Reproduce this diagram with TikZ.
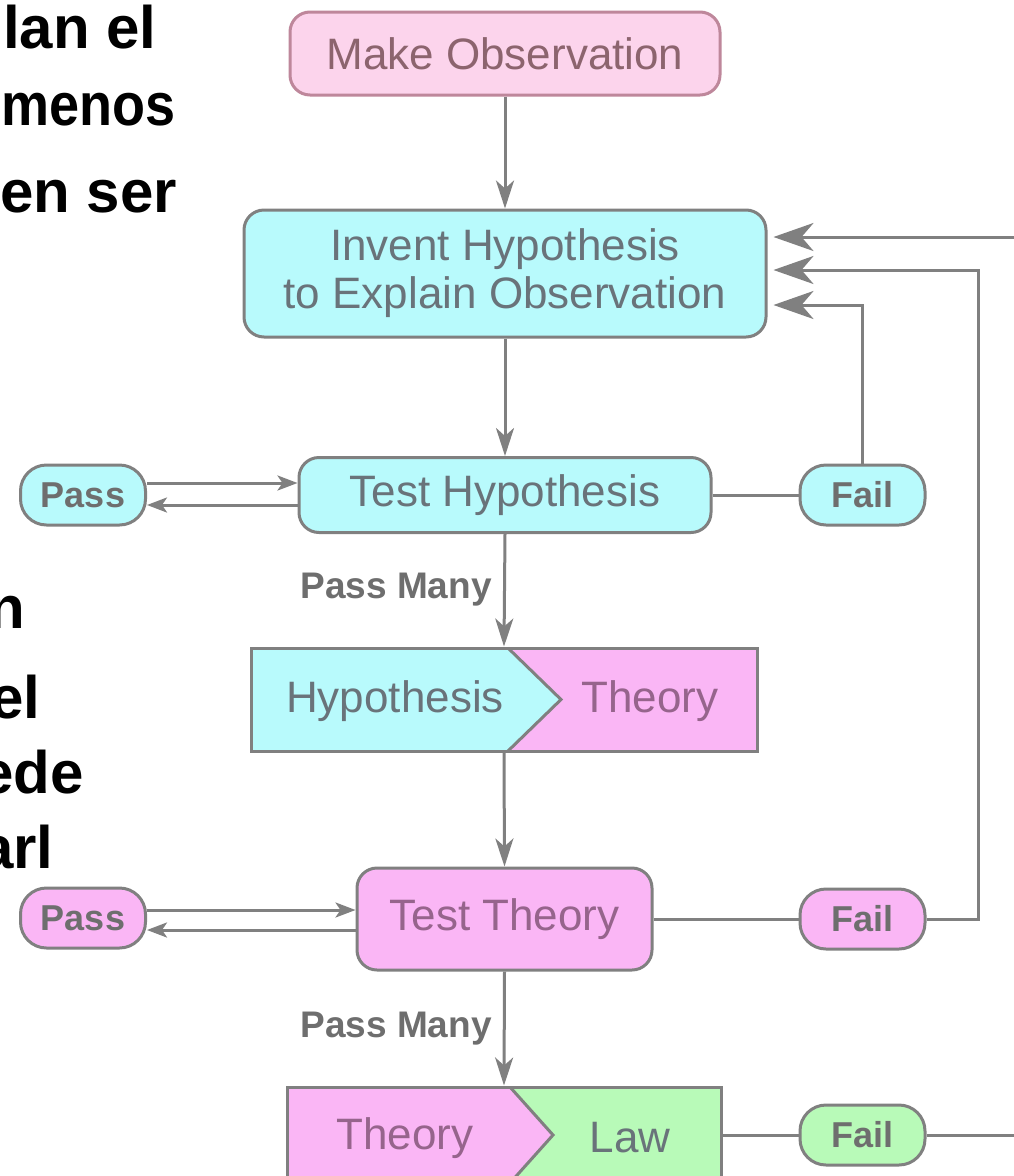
\documentclass[tikz,border=0pt]{standalone}
\usepackage{fontspec}
\setmainfont{Liberation Sans}
\usetikzlibrary{arrows.meta,calc}
\definecolor{cyanf}{RGB}{184,250,252}
\definecolor{pinkf}{RGB}{250,182,245}
\definecolor{pinkl}{RGB}{252,212,236}
\definecolor{greenf}{RGB}{184,250,184}
\definecolor{bord}{RGB}{128,128,128}
\definecolor{pinkbord}{RGB}{190,135,155}
\definecolor{ctext}{RGB}{105,115,122}
\definecolor{ptext}{RGB}{150,100,140}
\definecolor{otext}{RGB}{140,100,110}
\definecolor{ltext}{RGB}{110,110,110}
\tikzset{
  big/.style={font=\fontsize{44}{48}\selectfont},
  box/.style={draw=bord, line width=3pt, rounded corners=20pt, inner sep=0pt, big, align=center},
  pill/.style={draw=bord, line width=3pt, rounded corners=26pt, inner sep=0pt,
    minimum width=125pt, minimum height=60pt, font=\fontsize{36}{40}\selectfont\bfseries, text=ltext},
  conn/.style={draw=bord, line width=3pt},
  arrV/.style={conn, -{Stealth[length=28pt,width=18pt,inset=8pt]}},
  arrB/.style={conn, -{Stealth[length=40pt,width=28pt,inset=12pt]}, shorten >=6pt},
  arrS/.style={conn, -{Stealth[length=20pt,width=15pt,inset=5pt]}},
  lbl/.style={font=\fontsize{37}{40}\selectfont\bfseries, text=ltext, inner sep=0pt},
  side/.style={font=\fontsize{60}{64}\selectfont\bfseries, text=black, inner sep=0pt, anchor=base west}
}
\begin{document}
\begin{tikzpicture}[x=1pt,y=-1pt]
\useasboundingbox (0,0) rectangle (1014,1176);
\clip (0,0) rectangle (1014,1176);
\fill[white] (0,0) rectangle (1014,1176);

% left side clipped text
\node[side] (s1) at (3,48) {lan el};
\node[side] (s2) at (1,125) {\scalebox{0.9}[1]{menos}};
\node[side] (s3) at (0,212) {en ser};
\node[side] (s4) at (-12,628) {n};
\node[side] (s5) at (-10,718) {el};
\node[side] (s6) at (-20,793) {ede};
\node[side] (s7) at (-20,868) {arl};

% main boxes
\node[box, draw=pinkbord, fill=pinkl, text=otext, minimum width=430pt, minimum height=83pt] (obs) at (505,53.5) {Make Observation};
\node[box, fill=cyanf, text=ctext, minimum width=522pt, minimum height=127pt] (inv) at (505,273.5) {Invent Hypothesis\\to Explain Observation};
\node[box, fill=cyanf, text=ctext, minimum width=412pt, minimum height=75pt] (th) at (505,495) {Test Hypothesis};
\node[pill, fill=cyanf] (passC) at (83,495) {Pass};
\node[pill, fill=cyanf] (failC) at (862.5,495) {Fail};

% Hypothesis -> Theory chevron box
\fill[cyanf] (251,648) -- (508,648) -- (561,699.5) -- (508,751) -- (251,751) -- cycle;
\fill[pinkf] (508,648) -- (757,648) -- (757,751) -- (508,751) -- (561,699.5) -- cycle;
\draw[bord, line width=3pt] (508,648) -- (561,699.5) -- (508,751);
\node[draw=bord, line width=3pt, inner sep=0pt, minimum width=506pt, minimum height=103pt] (ht) at (504,699.5) {};
\node[big, text=ctext, inner sep=0pt] (htH) at (395,701) {Hypothesis};
\node[big, text=ptext, inner sep=0pt] (htT) at (650,701) {Theory};

\node[box, fill=pinkf, text=ptext, minimum width=295pt, minimum height=102pt] (tt) at (504.5,919) {Test Theory};
\node[pill, fill=pinkf] (passP) at (83,918) {Pass};
\node[pill, fill=pinkf] (failP) at (862.5,919) {Fail};

% Theory -> Law chevron box
\fill[pinkf] (287,1087) -- (510,1087) -- (553,1135) -- (510,1183) -- (287,1183) -- cycle;
\fill[greenf] (510,1087) -- (721,1087) -- (721,1183) -- (510,1183) -- (553,1135) -- cycle;
\draw[bord, line width=3pt] (510,1087) -- (553,1135) -- (510,1183);
\node[draw=bord, line width=3pt, inner sep=0pt, minimum width=434pt, minimum height=96pt] (tl) at (504,1135) {};
\node[big, text=ptext, inner sep=0pt] (tlT) at (405,1138) {Theory};
\node[big, text=ctext, inner sep=0pt] (tlL) at (630,1138) {Law};
\node[pill, fill=greenf] (failG) at (862.5,1135) {Fail};

% labels
\node[lbl] (pm1) at (396,590) {Pass Many};
\node[lbl] (pm2) at (396,1029) {Pass Many};

% coordinates
\coordinate (topin) at (1020,237);
\coordinate (rg) at (1020,1135);

% connectors
\draw[arrV] (obs.south) -- (inv.north);
\draw[arrV] (inv.south) -- (th.north);
\draw[arrS] ([yshift=12pt]passC.east) -- ([yshift=12pt]passC.east -| th.west);
\draw[arrS] ([yshift=-10pt]passC.east -| th.west) -- ([yshift=-10pt]passC.east);
\draw[conn] (th.east) -- (failC.west);
\draw[arrB] (failC.north) |- ([yshift=-31.5pt]inv.east);
\draw[arrV] (th.south) -- (ht.north);
\draw[arrV] (ht.south) -- (tt.north);
\draw[arrS] ([yshift=8pt]passP.east) -- ([yshift=8pt]passP.east -| tt.west);
\draw[arrS] ([yshift=-12pt]passP.east -| tt.west) -- ([yshift=-12pt]passP.east);
\draw[conn] (tt.east) -- (failP.west);
\draw[arrB] (failP.east) -- (978,919) |- ([yshift=3.5pt]inv.east);
\draw[arrB] (topin) -- ([yshift=36.5pt]inv.east);
\draw[arrV] (tt.south) -- (tl.north);
\draw[conn] (tl.east) -- (failG.west);
\draw[conn] (failG.east) -- (rg);
\end{tikzpicture}
\end{document}
